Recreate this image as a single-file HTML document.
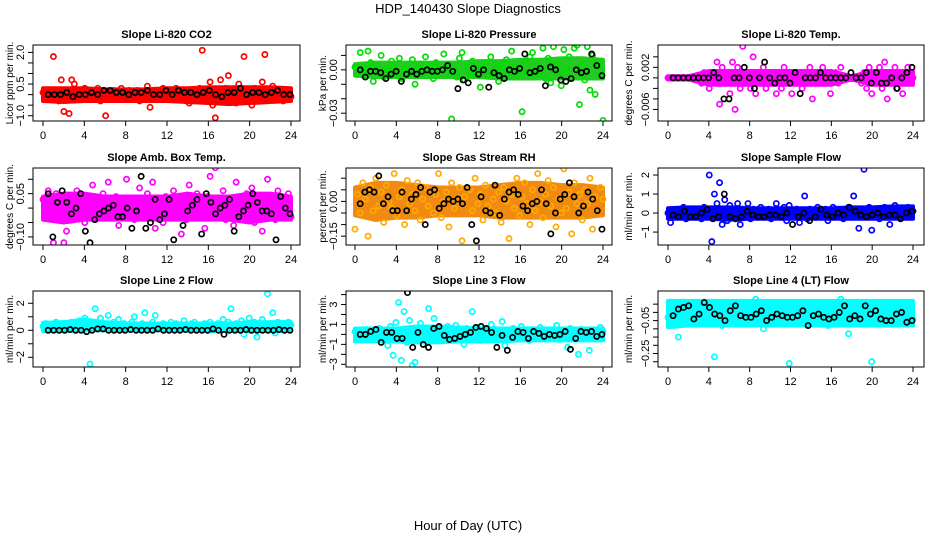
<!DOCTYPE html>
<html><head><meta charset="utf-8"><style>
html,body{margin:0;padding:0;background:#fff;}
svg{display:block;font-family:"Liberation Sans",sans-serif;}
</style></head><body>
<svg id="chart" width="936" height="540" viewBox="0 0 936 540">
<text x="468" y="13" text-anchor="middle" font-size="13">HDP_140430  Slope Diagnostics</text>
<text x="468" y="530" text-anchor="middle" font-size="13">Hour of Day (UTC)</text>
</svg>
<script>
const xTicks=[0,4,8,12,16,20,24];
const bandHours=[0,2,4,6,8,10,12,14,16,18,20,22,24];
const co2Vals=[0.1,-0.2,0.2,-0.1,1.8,0.0,-0.3,0.7,-0.8,0.2,-0.9,0.7,0.5,-0.1,0.2,-0.2,0.3,0.1,-0.2,0.0,0.1,0.3,-0.3,0.2,-1.0,0.1,-0.2,0.2,0.0,-0.1,0.3,-0.2,0.1,0.2,-0.1,0.0,0.2,-0.3,0.1,-0.2,0.4,-0.6,0.0,0.2,-0.1,0.1,0.3,-0.2,0.0,0.2,-0.1,0.3,-0.2,0.1,0.0,-0.3,-0.4,0.2,0.1,-0.1,0.3,2.1,-0.2,0.0,0.6,-0.5,-1.1,0.1,0.7,-0.2,0.3,0.9,-0.1,0.2,-0.4,0.5,0.3,1.8,-0.2,0.1,-0.5,0.3,0.2,-0.3,0.6,1.9,-0.1,0.2,0.4,-0.2,0.0,0.1,-0.3,0.2,0.1,-0.1];
const co2Black=[0.0,0.0,0.0,0.1,-0.1,0.0,0.0,0.1,0.0,0.2,0.2,0.1,0.1,0.0,0.1,0.1,0.2,0.0,0.0,0.2,0.0,0.2,0.1,0.1,0.0,0.1,0.2,0.0,-0.1,0.1,0.1,0.3,0.0,0.1,0.1,0.0,0.1,0.2,0.0,0.0];
const co2Lo=[-0.3,-0.35,-0.3,-0.3,-0.3,-0.3,-0.3,-0.35,-0.4,-0.45,-0.4,-0.35,-0.3];
const co2Hi=[0.3,0.3,0.3,0.25,0.25,0.25,0.3,0.3,0.35,0.35,0.35,0.35,0.3];
const presVals=[2,-3,12,1,-4,13,5,-8,3,-2,10,-5,1,-1,6,2,-4,8,-6,0,3,-2,7,-10,1,4,-3,9,-1,2,-6,5,0,-3,11,-2,4,-34,1,-5,8,12,-7,2,-1,6,-3,0,-12,3,5,-4,9,-2,1,-8,4,-1,7,-5,13,2,-3,0,-29,6,-2,9,12,-4,3,-1,15,-6,8,-9,16,4,-2,-11,14,1,9,-6,15,17,-24,3,-7,16,-14,10,-17,5,-2,-35];
const presBlack=[0,-5,-1,-1,-2,-6,-3,-1,-8,-3,-1,-3,-1,0,-1,-1,0,3,-1,-13,-7,-9,1,-3,0,-12,-2,-4,-6,0,-1,1,11,-2,-1,1,-11,2,0,-7,-8,-6,0,-2,-1,11,3,-4];
const presLo=[-4,-5,-5,-5,-5,-5,-5,-6,-6,-6,-6,-6,-6];
const presHi=[4,5,5,5,5,5,6,6,7,7,8,8,7];
const tempVals=[0,0,0,0,0,0,0,0,0,0,0,0,0,-1,1,0,-2,1,-1,3,-5,2,-1,1,-3,3,-6,2,-2,6,-1,1,-2,4,-3,1,-1,2,-2,0,1,-1,-3,1,-2,2,-1,1,-3,-1,1,0,-2,1,-1,2,-4,1,-1,0,2,-1,1,-3,0,1,-1,2,0,0,0,0,0,0,0,-1,1,-2,2,-3,1,-1,2,-2,3,-4,1,-1,2,-2,1,-3,1,2,-1,0];
const tempBlack=[0,0,0,0,0,0,0,0,1,0,-4,-4,0,0,2,0,-2,0,3,0,-1,0,0,-1,1,-3,0,0,0,1,0,0,0,0,0,1,0,0,1,-1,1,-1,-1,0,-2,0,1,2];
const tempLo=[-0.3,-0.3,-1.3,-1.3,-1.3,-1.3,-1.3,-1.3,-1.3,-0.3,-1.3,-1.3,-1.3];
const tempHi=[0.3,0.3,1.3,1.3,1.3,1.3,1.3,1.3,1.3,0.3,1.3,1.3,1.3];
const ambVals=[3,-2,6,0,-12,5,-1,2,-12,-8,4,1,-3,6,0,2,-5,3,-1,8,-4,2,0,5,-2,9,1,-3,4,-6,2,0,10,-1,3,-4,1,7,-2,0,5,-3,9,-7,2,1,-5,4,0,-2,6,-1,3,-9,1,-4,8,0,-3,5,-1,2,-7,4,11,-2,14,3,-1,6,-4,2,0,-6,9,-2,1,-3,5,-1,7,-5,2,0,-8,4,10,-2,3,-4,6,1,-2,0,5,-3];
const ambBlack=[5,-10,2,6,2,-2,0,5,-8,-12,-4,-2,-1,0,1,-3,-3,0,-7,-1,11,-7,-5,3,-4,-2,3,-11,-15,-6,-1,1,3,-9,5,2,-2,0,1,3,-8,-3,-1,1,5,2,-1,-1,-2,-11,4,0,-2];
const ambLo=[-4,-5,-4,-4,-4,-4,-4,-4,-4,-4,-5,-4,-4];
const ambHi=[4,5,5,4,4,4,4,5,4,4,5,5,4];
const rhVals=[-12,3,-5,8,1,-15,6,-4,10,-2,4,-9,7,0,-3,12,-6,2,5,-10,9,-1,3,-4,8,-8,1,6,-2,18,-5,3,12,-7,0,4,-11,8,-3,1,6,-17,2,-21,5,-4,10,-1,3,-8,7,-2,18,1,-5,4,-9,6,0,-16,3,-3,10,-6,2,8,-1,-10,5,-4,12,0,-7,3,9,-2,6,-11,1,-5,14,-3,4,-14,8,-1,3,-8,5,-1,10,-12,2,-4,6,1];
const rhBlack=[-1,4,5,4,11,-1,2,-4,-4,4,-4,1,3,6,-10,4,5,-3,-1,1,0,1,-1,6,-10,-17,2,-4,-5,7,-6,1,4,5,3,-2,-4,-1,0,5,-1,-14,-5,1,3,8,2,-5,-2,4,1,-4,-12];
const rhLo=[-6,-8,-7,-7,-6,-6,-6,-7,-7,-7,-7,-7,-6];
const rhHi=[6,8,8,7,6,6,6,7,8,8,7,7,6];
const sampVals=[0,-0.5,0.1,-0.2,0.2,-0.1,0.3,-0.3,0.1,0.0,-0.2,0.2,0.1,-0.3,0.3,0.0,2.0,-1.5,1.0,0.5,1.6,-0.6,0.7,-0.4,0.4,-0.2,0.1,0.5,-0.6,0.2,0.0,0.5,-0.3,0.2,0.1,-0.2,0.3,0.0,-0.1,0.2,-0.3,0.1,0.5,-0.2,0.0,0.3,-0.4,0.4,0.1,-0.2,0.2,-0.5,0.0,0.9,-0.3,0.2,0.1,-0.1,0.3,-0.2,0.0,0.2,-0.4,0.1,0.3,-0.1,0.2,0.0,-0.3,0.1,0.3,-0.2,0.9,0.0,-0.8,0.2,2.3,-0.1,0.3,-0.9,0.1,0.2,-0.3,0.0,0.3,-0.2,-0.6,0.1,0.4,-0.2,0.2,0.0,-0.1,0.3,-0.2,0.1];
const sampBlack=[-0.1,-0.2,0.1,-0.2,-0.2,0.0,0.2,-0.3,-0.2,1.0,-0.2,-0.3,-0.2,0.1,-0.1,-0.2,-0.2,-0.1,-0.1,-0.2,0.0,-0.6,-0.2,0.0,-0.4,-0.2,0.2,-0.1,-0.2,0.0,-0.1,0.3,0.1,-0.1,-0.2,-0.1,0.0,-0.2,-0.1,-0.1,-0.3,0.0,0.1];
const sampLo=[-0.3,-0.3,-0.3,-0.35,-0.3,-0.3,-0.3,-0.3,-0.3,-0.3,-0.3,-0.3,-0.3];
const sampHi=[0.25,0.3,0.3,0.3,0.25,0.25,0.25,0.25,0.25,0.3,0.3,0.35,0.35];
const line2Vals=[0.3,0.5,0.2,0.4,0.1,0.6,0.3,0.2,0.5,0.4,0.3,0.6,0.2,0.5,0.7,0.3,0.9,0.4,-2.5,0.6,1.6,0.3,0.9,0.5,0.2,1.1,0.4,0.6,0.3,0.8,0.2,0.5,0.4,0.3,0.6,1.0,0.2,0.4,0.5,1.3,0.3,0.2,0.6,1.1,0.4,0.3,0.5,0.2,0.4,0.6,0.3,0.5,0.2,0.4,0.7,0.3,0.1,0.5,0.6,0.3,0.4,0.2,0.5,0.3,0.6,0.4,0.2,0.5,0.3,0.8,0.4,0.6,1.6,0.3,0.5,0.2,0.7,-0.3,0.4,0.9,0.1,0.6,-0.5,0.3,0.8,0.5,2.7,0.4,1.3,-0.2,0.6,0.3,0.5,0.2,0.6,0.4];
const line2Black=[0,0,0,0,0.05,0,0,-0.1,0,0.1,0.1,0,0,0,0,0.05,0,0,0,0,0.1,0,0,0,0,0.05,0,0,0,0,0.1,0,-0.3,0,0,0,0.05,0,0,0,0,0,0.05,0,0];
const line2Lo=[-0.05,-0.05,0,0,0,0,0,0,-0.05,-0.05,-0.05,-0.05,-0.05];
const line2Hi=[0.55,0.6,0.8,0.6,0.5,0.5,0.5,0.5,0.5,0.5,0.6,0.6,0.6];
const line3Vals=[0.3,-0.4,0.1,-0.3,0.5,0,-0.5,0.4,-0.2,0.6,-0.1,0.2,-1.1,0.8,-2.1,1.2,3.2,-2.6,2.3,-0.8,1.4,-3.1,-2.8,0.6,1.1,-1.0,0.3,2.6,-0.3,1.6,0.2,-0.6,0.5,-0.2,0.8,-0.4,0.1,0.9,-0.5,0.3,-1.0,0.6,0.2,2.3,-0.2,0.7,-0.6,0.4,0.1,-0.3,1.0,0.5,-0.5,0.2,1.3,-1.1,0.4,-0.2,0.6,0.1,-0.4,0.8,-0.1,0.3,-0.6,0.5,0.2,-0.3,0.7,0.0,-0.4,0.4,0.1,-0.2,0.9,-0.5,0.3,0.0,-1.3,0.6,-0.2,0.2,-2.0,0.5,-0.3,0.1,-1.6,0.4,0.2,-0.1,0.7,0.3];
const line3Black=[0,0,0.3,0.5,-0.8,0.2,0.2,-0.4,-0.4,4.2,-1.3,0.2,-1.0,-1.3,0.6,0.8,-0.1,-0.5,-0.4,-0.2,0,0.2,0.7,0.8,0.6,0.2,-1.3,-0.1,-1.6,-0.3,0.3,0.2,-0.4,0.3,0.1,-0.2,0,-0.1,0,0.3,-1.5,-0.4,0.3,0.2,0.3,-0.2,0];
const line3Lo=[-0.7,-0.7,-0.7,-0.8,-0.8,-0.7,-0.7,-0.7,-0.6,-0.6,-0.6,-0.6,-0.6];
const line3Hi=[0.6,0.6,0.6,0.8,0.8,0.7,0.6,0.6,0.6,0.6,0.6,0.6,0.6];
const line4Vals=[-3,2,-5,0,-15,1,-4,3,-1,-6,5,-2,0,-3,4,-1,-7,2,-27,-2,1,-8,3,-4,0,6,-2,-5,1,-3,4,-1,-6,2,8,-3,0,-10,3,-2,-5,1,5,-3,-1,-6,2,-31,0,-4,3,-2,1,-7,4,-1,-3,2,-5,0,6,-2,-8,3,-1,-4,1,8,-3,0,-13,2,-5,1,-2,4,-6,0,-3,-30,3,-1,-5,2,-4,0,6,-2,-3,1,-5,4,0,-2,3,-4];
const line4Black=[-2,2,3,4,-4,-1,6,3,-1,-2,-5,1,4,-2,-3,-3,-1,1,-5,-3,-1,-2,-3,-3,-2,1,-8,-2,-1,-3,-4,-3,0,4,-4,-2,-4,4,-1,1,-4,-5,-5,-1,0,-6,-5];
const line4Lo=[-9,-8,-8,-8,-8,-8,-8,-8,-8,-8,-8,-8,-8];
const line4Hi=[7,7,7,7,7,7,7,7,7,7,7,7,7];

const co2Ticks=[-1,-0.5,0,0.5,1,1.5,2], co2Labels=[[-1,"\u22121.0"],[0.5,"0.5"],[2,"2.0"]];
const presTicks=[10,0,-10,-20,-30], presLabels=[[0,"0.00"],[-30,"\u22120.03"]];
const tempTicks=[4,2,0,-2,-4,-6], tempLabels=[[2,"0.002"],[-6,"\u22120.006"]];
const ambTicks=[10,5,0,-5,-10], ambLabels=[[5,"0.05"],[-10,"\u22120.10"]];
const rhTicks=[10,5,0,-5,-10,-15], rhLabels=[[0,"0.00"],[-15,"\u22120.15"]];
const sampTicks=[2,1,0,-1], sampLabels=[[2,"2"],[1,"1"],[0,"0"],[-1,"\u22121"]];
const line2Ticks=[2,1,0,-1,-2], line2Labels=[[2,"2"],[0,"0"],[-2,"\u22122"]];
const line3Ticks=[4,3,2,1,0,-1,-2,-3], line3Labels=[[3,"3"],[1,"1"],[-1,"\u22121"],[-3,"\u22123"]];
const line4Ticks=[5,0,-5,-10,-15,-20,-25,-30], line4Labels=[[-5,"\u22120.05"],[-25,"\u22120.25"]];

const NS="http://www.w3.org/2000/svg";
const svg=document.getElementById('chart');
function mk(tag,attrs,parent){const e=document.createElementNS(NS,tag);for(const k in attrs)e.setAttribute(k,attrs[k]);(parent||svg).appendChild(e);return e;}

const cols=[{l:33,r:300,x0:43,x1:291,yt:9},{l:346,r:612,x0:355,x1:603,yt:322},{l:658,r:924,x0:668,x1:913,yt:628}];
const rows=[{t:45,b:121},{t:168,b:245},{t:291,b:367}];
const panels=[
 {name:"co2",title:"Slope Li-820 CO2",ylab:"Licor ppm per min.",c:0,r:0,dom:[-1.25,2.35],vals:co2Vals,blk:co2Black,lo:co2Lo,hi:co2Hi,ticks:co2Ticks,labels:co2Labels,col:"#ff0000",band:"#ff0000"},
 {name:"pressure",title:"Slope Li-820 Pressure",ylab:"kPa per min.",c:1,r:0,dom:[-35.4,17.2],vals:presVals,blk:presBlack,lo:presLo,hi:presHi,ticks:presTicks,labels:presLabels,col:"#00dd00",band:"#22cc22"},
 {name:"temp",title:"Slope Li-820 Temp.",ylab:"degrees C per min.",c:2,r:0,dom:[-8.2,6.25],vals:tempVals,blk:tempBlack,lo:tempLo,hi:tempHi,ticks:tempTicks,labels:tempLabels,col:"#ff00ff",band:"#ff00ff"},
 {name:"amb-temp",title:"Slope Amb. Box Temp.",ylab:"degrees C per min.",c:0,r:1,dom:[-12.8,13.9],vals:ambVals,blk:ambBlack,lo:ambLo,hi:ambHi,ticks:ambTicks,labels:ambLabels,col:"#ff00ff",band:"#ff00ff"},
 {name:"gas-rh",title:"Slope Gas Stream RH",ylab:"percent per min.",c:1,r:1,dom:[-18.8,14.4],vals:rhVals,blk:rhBlack,lo:rhLo,hi:rhHi,ticks:rhTicks,labels:rhLabels,col:"#ffaa00",band:"#f08a10"},
 {name:"sample-flow",title:"Slope Sample Flow",ylab:"ml/min per min.",c:2,r:1,dom:[-1.68,2.37],vals:sampVals,blk:sampBlack,lo:sampLo,hi:sampHi,ticks:sampTicks,labels:sampLabels,col:"#0000ff",band:"#0000ff"},
 {name:"line2-flow",title:"Slope Line 2 Flow",ylab:"ml/min per min.",c:0,r:2,dom:[-2.72,2.91],vals:line2Vals,blk:line2Black,lo:line2Lo,hi:line2Hi,ticks:line2Ticks,labels:line2Labels,col:"#00ffff",band:"#00ffff"},
 {name:"line3-flow",title:"Slope Line 3 Flow",ylab:"ml/min per min.",c:1,r:2,dom:[-3.27,4.36],vals:line3Vals,blk:line3Black,lo:line3Lo,hi:line3Hi,ticks:line3Ticks,labels:line3Labels,col:"#00ffff",band:"#00ffff"},
 {name:"line4-flow",title:"Slope Line 4 (LT) Flow",ylab:"ml/min per min.",c:2,r:2,dom:[-33.2,13],vals:line4Vals,blk:line4Black,lo:line4Lo,hi:line4Hi,ticks:line4Ticks,labels:line4Labels,col:"#00ffff",band:"#00ffff"}
];

panels.forEach(p=>{
 const C=cols[p.c],R=rows[p.r];
 const g=mk('g',{});
 
 
 const xs=h=>C.x0+(C.x1-C.x0)*h/24;
 const ys=v=>R.b-(v-p.dom[0])/(p.dom[1]-p.dom[0])*(R.b-R.t);
 const clip='clip-'+p.name;
 const cp=mk('clipPath',{id:clip},g);mk('rect',{x:C.l,y:R.t,width:C.r-C.l,height:R.b-R.t},cp);
 const title=mk('text',{x:(C.l+C.r)/2,y:R.t-7,'text-anchor':'middle','font-size':11,'font-weight':'bold'},g);
 title.textContent=p.title;
 
 
 const pts=mk('g',{'clip-path':'url(#'+clip+')'},g);
 
 
 let d='';
 bandHours.forEach((h,i)=>{d+=(i?'L':'M')+xs(h)+','+ys(p.hi[i]);});
 for(let i=bandHours.length-1;i>=0;i--){d+='L'+xs(bandHours[i])+','+ys(p.lo[i]);}
 const band=mk('path',{d:d+'Z',fill:p.band,stroke:p.band,'stroke-width':4,'stroke-linejoin':'round'},pts);
 
 
 const n=p.vals.length;
 p.vals.forEach((v,i)=>{
  const c=mk('circle',{cx:xs(24*i/(n-1)),cy:ys(v),r:2.6,fill:'none',stroke:p.col,'stroke-width':1.7},pts);
  
  
 });
 const m=p.blk.length;
 p.blk.forEach((v,i)=>{
  const c=mk('circle',{cx:xs(0.5+23.4*i/(m-1)),cy:ys(v),r:2.6,fill:'none',stroke:'#000','stroke-width':1.7},pts);
  
  
 });
 const box=mk('rect',{x:C.l,y:R.t,width:C.r-C.l,height:R.b-R.t,fill:'none',stroke:'#000','stroke-width':1},g);
 
 
 const xa=mk('g',{},g);
 
 
 mk('line',{x1:xs(0),x2:xs(24),y1:R.b,y2:R.b,stroke:'#000'},xa);
 xTicks.forEach(t=>{
  mk('line',{x1:xs(t),x2:xs(t),y1:R.b,y2:R.b+5,stroke:'#000'},xa);
  const tx=mk('text',{x:xs(t),y:R.b+18,'text-anchor':'middle','font-size':11},xa);
  tx.textContent=t;
  
  
 });
 const ya=mk('g',{},g);
 
 
 const tv=p.ticks;
 mk('line',{x1:C.l,x2:C.l,y1:ys(Math.max(...tv)),y2:ys(Math.min(...tv)),stroke:'#000'},ya);
 tv.forEach(t=>{mk('line',{x1:C.l-5,x2:C.l,y1:ys(t),y2:ys(t),stroke:'#000'},ya);});
 p.labels.forEach(([v,s])=>{
  const tx=mk('text',{x:0,y:0,'text-anchor':'middle','font-size':11,transform:'translate('+(C.l-9)+','+ys(v)+') rotate(-90)'},ya);
  tx.textContent=s;
  
  
 });
 const yl=mk('text',{x:0,y:0,'text-anchor':'middle','font-size':10,transform:'translate('+(C.yt+4)+','+((R.t+R.b)/2)+') rotate(-90)'},g);
 yl.textContent=p.ylab;
 
 
});
</script>
</body></html>
